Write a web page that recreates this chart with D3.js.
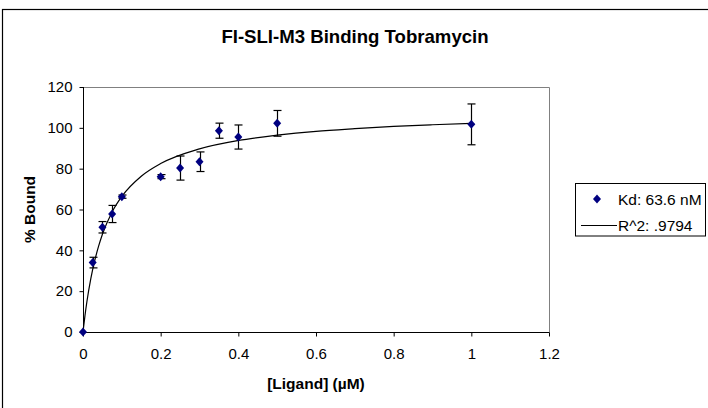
<!DOCTYPE html>
<html><head><meta charset="utf-8">
<script src="https://cdn.jsdelivr.net/npm/d3@7"></script>
<style>body{margin:0;background:#fff}svg{display:block}text{font-family:"Liberation Sans",Arial,sans-serif}</style>
</head><body>
<svg id="c" width="708" height="408"></svg>
<script>
const title = "FI-SLI-M3 Binding Tobramycin";
const xLabel = "[Ligand] (\u00B5M)";
const yLabel = "% Bound";
const ligand = [0, 0.025, 0.05, 0.075, 0.1, 0.2, 0.25, 0.3, 0.35, 0.4, 0.5, 1.0];
const bound  = [0, 34.0, 51.3, 57.8, 66.3, 76.1, 80.3, 83.4, 98.6, 95.5, 102.2, 101.7];
const errs   = [0, 2.6, 2.8, 4.2, 0.8, 1.0, 5.9, 4.8, 3.7, 5.9, 6.3, 10.0];
const fitX = [0, 0.005, 0.01, 0.02, 0.03, 0.04, 0.05, 0.075, 0.1, 0.15, 0.2, 0.3, 0.4, 0.5, 0.6, 0.7, 0.8, 0.9, 1.0];
const fitY = [0, 7.9, 14.8, 26.0, 34.8, 41.9, 47.9, 58.8, 66.4, 76.3, 82.5, 89.7, 93.8, 96.4, 98.3, 99.6, 100.7, 101.5, 102.2];
const xTicks = [0, 0.2, 0.4, 0.6, 0.8, 1, 1.2];
const yTicks = [0, 20, 40, 60, 80, 100, 120];
const legendLabels = ["Kd: 63.6 nM", "R^2: .9794"];

const svg = d3.select("#c");
// outer chart frame
svg.append("rect").attr("x", 2.5).attr("y", 9.5).attr("width", 740).attr("height", 440)
  .attr("fill", "#fff").attr("stroke", "#000").attr("stroke-width", 1.2);

const L = 83, R = 549, T = 87, B = 332;
const x = d3.scaleLinear().domain([0, 1.2]).range([L, R]);
const y = d3.scaleLinear().domain([0, 120]).range([B, T]);

// plot border (gray top/right)
svg.append("path").attr("d", `M${L},${T + 0.5}H${R + 0.5}V${B}`)
  .attr("fill", "none").attr("stroke", "#808080").attr("stroke-width", 1);

const xAxis = svg.append("g").attr("transform", `translate(0,${B + 0.5})`)
  .call(d3.axisBottom(x).tickValues(xTicks).tickFormat(d3.format("")).tickSize(4).tickSizeOuter(0).tickPadding(16));
const yAxis = svg.append("g").attr("transform", `translate(${L + 0.5},0)`)
  .call(d3.axisLeft(y).tickValues(yTicks).tickSize(4).tickSizeOuter(0).tickPadding(7));
[xAxis, yAxis].forEach(g => {
  g.select(".domain").attr("stroke", "#000");
  g.selectAll(".tick line").attr("stroke", "#000");
  g.selectAll("text").attr("font-size", 15).attr("fill", "#000").attr("font-family", "Liberation Sans, Arial, sans-serif");
});
xAxis.select(".domain").attr("d", `M${L},0H${R + 0.5}`);
yAxis.select(".domain").attr("d", `M0,${T}V${B + 0.5}`);
xAxis.selectAll(".tick text").attr("dy", "0.35em").attr("y", 21);

// fit curve
const line = d3.line().x(d => x(d[0])).y(d => y(d[1])).curve(d3.curveMonotoneX);
svg.append("path").datum(fitX.map((v, i) => [v, fitY[i]]))
  .attr("d", line).attr("fill", "none").attr("stroke", "#000").attr("stroke-width", 1.2);

// error bars
const pts = ligand.map((v, i) => ({x: v, y: bound[i], e: errs[i]}));
const eb = svg.append("g").attr("stroke", "#000").attr("stroke-width", 1.2);
pts.filter(d => d.e > 0).forEach(d => {
  const cx = Math.round(x(d.x)) + 0.5;
  eb.append("line").attr("x1", cx).attr("x2", cx).attr("y1", y(d.y + d.e)).attr("y2", y(d.y - d.e));
  eb.append("line").attr("x1", cx - 4).attr("x2", cx + 4).attr("y1", y(d.y + d.e)).attr("y2", y(d.y + d.e));
  eb.append("line").attr("x1", cx - 4).attr("x2", cx + 4).attr("y1", y(d.y - d.e)).attr("y2", y(d.y - d.e));
});

const diamond = (cx, cy) => `M${cx},${cy - 4.5}L${cx + 4},${cy}L${cx},${cy + 4.5}L${cx - 4},${cy}Z`;
svg.append("g").selectAll("path").data(pts).join("path")
  .attr("d", d => diamond(x(d.x), y(d.y))).attr("fill", "#000080");

// title & labels
svg.append("text").attr("x", 355).attr("y", 43).attr("text-anchor", "middle")
  .attr("font-size", 18.6).attr("font-weight", "bold").text(title);
svg.append("text").attr("x", (L + R) / 2).attr("y", 389).attr("text-anchor", "middle")
  .attr("font-size", 15.5).attr("font-weight", "bold").text(xLabel);
svg.append("text").attr("transform", `translate(35,${(T + B) / 2}) rotate(-90)`).attr("text-anchor", "middle")
  .attr("font-size", 15.5).attr("font-weight", "bold").text(yLabel);

// legend
const lg = svg.append("g");
lg.append("rect").attr("x", 575.5).attr("y", 183.5).attr("width", 130).attr("height", 52.5)
  .attr("fill", "#fff").attr("stroke", "#000").attr("stroke-width", 1);
lg.append("path").attr("d", diamond(597, 199)).attr("fill", "#000080");
lg.append("line").attr("x1", 581).attr("x2", 617).attr("y1", 225.5).attr("y2", 225.5).attr("stroke", "#000");
lg.selectAll("text.l").data(legendLabels).join("text").attr("class", "l")
  .attr("x", 618).attr("y", (d, i) => 204.5 + i * 26).attr("font-size", 15.5).text(d => d);
</script>
</body></html>
